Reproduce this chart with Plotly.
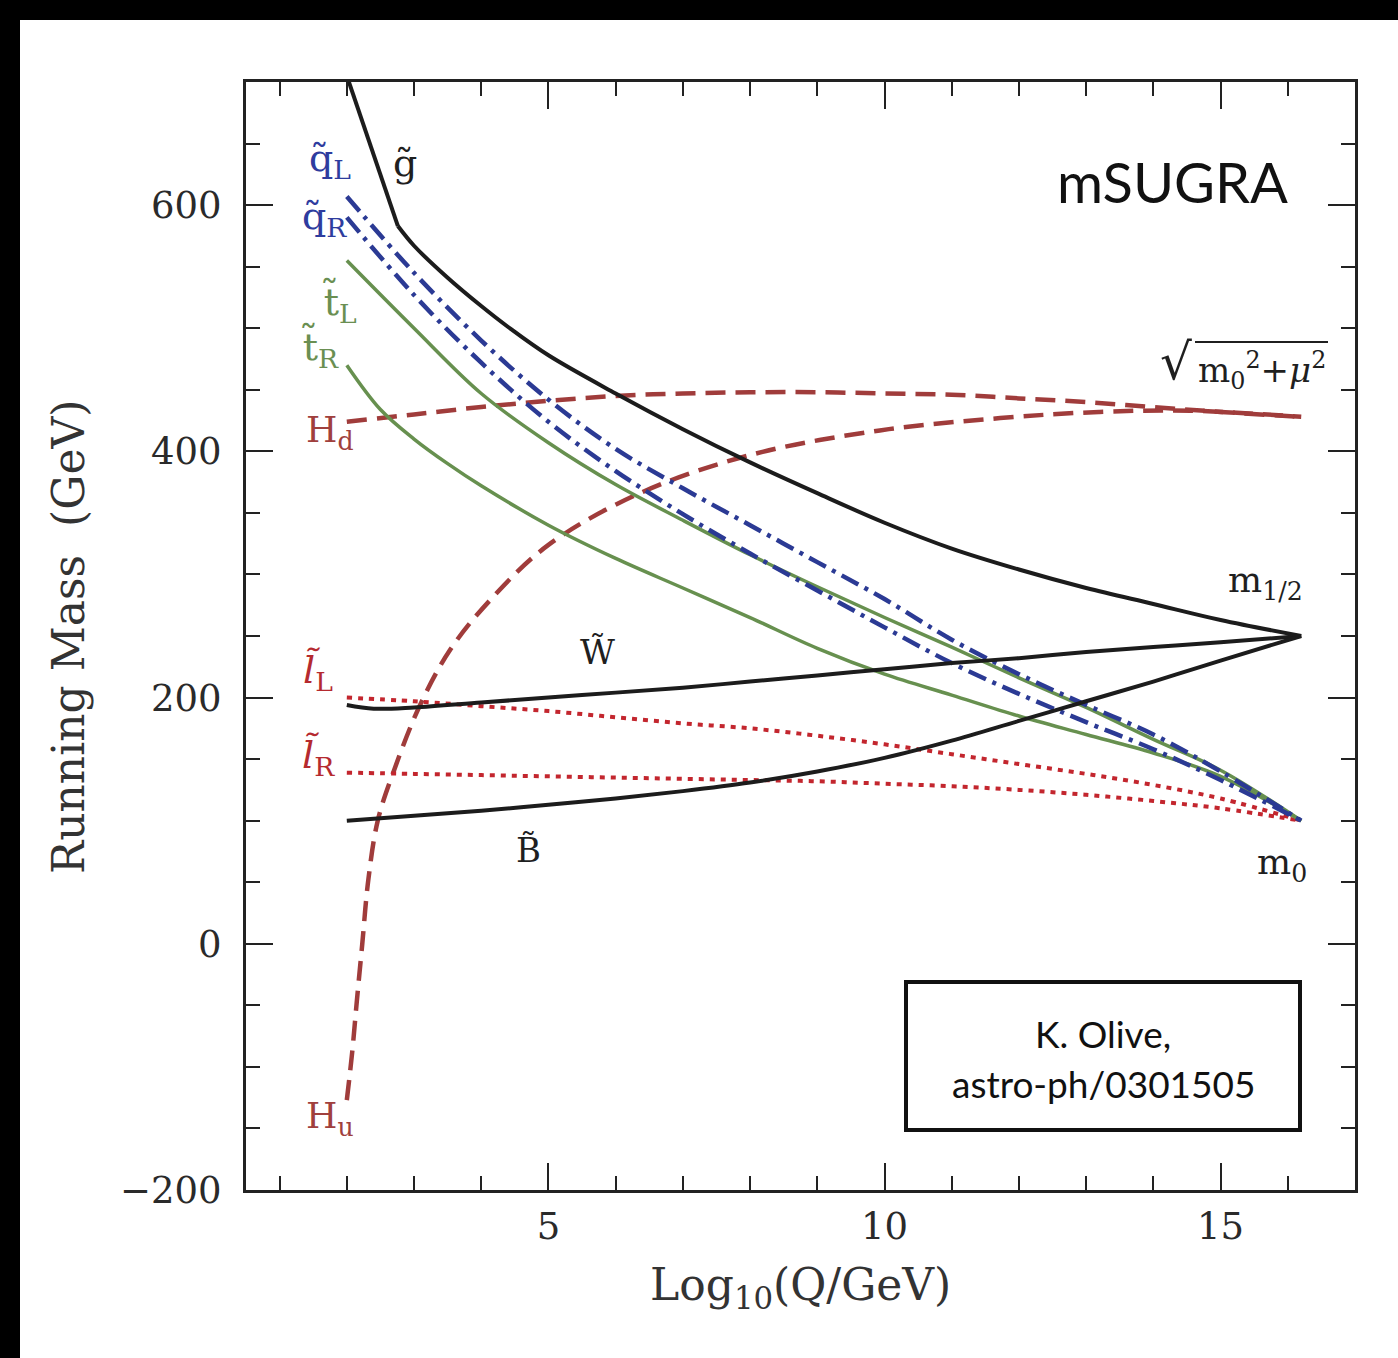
import plotly.graph_objects as go

# ---------------- data ----------------
x_main = [2, 3, 4, 5, 6, 7, 8, 9, 10, 11, 12, 13, 14, 15, 16.2]

gluino_x = [2.0, 2.76, 3.0, 3.5, 4.0, 4.4, 5, 6, 7, 8, 9, 10, 11, 12, 13, 14, 15, 16.2]
gluino_y = [705, 583, 567, 541, 518, 501, 478, 447, 418, 391, 366, 342, 321, 304, 289, 276, 263, 250]

squark_L = [607, 545, 490, 442, 402, 370, 340, 310, 280, 247, 219, 194, 170, 140, 100]
squark_R = [590, 527, 472, 424, 384, 349, 317, 287, 257, 228, 203, 180, 158, 133, 100]

stop_L = [555, 500, 447, 407, 373, 344, 316, 290, 265, 241, 216, 192, 166, 141, 100]
stop_R_x = [2, 2.5, 3, 3.5, 4, 5, 6, 7, 8, 9, 10, 11, 12, 13, 14, 15, 16.2]
stop_R = [470, 434, 410, 390, 372, 340, 313, 289, 265, 240, 219, 202, 185, 170, 155, 136, 100]

wino_x = [2, 2.4, 3, 4, 5, 6, 7, 8, 9, 10, 11, 12, 13, 14, 15, 16.2]
wino_y = [194, 191, 192, 196, 200, 204, 208, 213, 218, 223, 228, 232, 237, 241, 245, 250]
bino_y = [100, 104, 108, 113, 118, 124, 131, 140, 151, 165, 181, 197, 213, 230, 250]

slep_L = [200, 197, 193, 189, 184, 179, 175, 169, 162, 154, 146, 138, 129, 118, 100]
slep_R = [139, 138, 137, 136, 135, 134, 133, 132, 130, 128, 125, 121, 116, 110, 100]

Hd_y = [424, 430, 436, 441, 445, 447, 448, 448, 447, 446, 443, 440, 436, 432, 428]

Hu_x = [2.0, 2.08, 2.15, 2.23, 2.32, 2.46, 2.69, 3.09, 3.54, 4.13, 5.0, 6.36, 8.0, 9.93, 11.72, 13.2, 14.55, 16.2]
Hu_y = [-127, -88, -46, 0, 52, 100, 139, 194, 239, 279, 324, 366, 397, 417, 427, 432, 433, 428]

x_ticks = [5, 10, 15]
y_ticks = [-200, 0, 200, 400, 600]

# ---------------- styles ----------------
BLACK = "#1c1c1c"
BLUE = "#2b3a94"
GREEN = "#67904f"
RED = "#c3262e"
BROWN = "#a03c3b"
SERIF = "DejaVu Serif"

fig = go.Figure()

def add(x, y, color, width, dash="solid", shape="spline"):
    line = dict(color=color, width=width, dash=dash, shape=shape)
    if shape == "spline":
        line["smoothing"] = 1.0
    fig.add_trace(go.Scatter(x=x, y=y, mode="lines", line=line,
                             showlegend=False, hoverinfo="skip"))

add(Hu_x, Hu_y, BROWN, 4.5, "20px,10px")
add(x_main, Hd_y, BROWN, 4.5, "20px,10px")
add(x_main, slep_L, RED, 4, "5px,6px")
add(x_main, slep_R, RED, 4, "5px,6px")
add(stop_R_x, stop_R, GREEN, 3.5)
add(x_main, stop_L, GREEN, 3.5)
add(x_main, squark_R, BLUE, 4.5, "19px,7px,4px,7px")
add(x_main, squark_L, BLUE, 4.5, "19px,7px,4px,7px")
add(wino_x, wino_y, BLACK, 4)
add(x_main, bino_y, BLACK, 4)
add(gluino_x[:2], gluino_y[:2], BLACK, 4, shape="linear")
add(gluino_x[1:], gluino_y[1:], BLACK, 4)

# ---------------- axes ----------------
axis_common = dict(showline=True, linewidth=3, linecolor="#222", mirror="allticks",
                   ticks="inside", ticklen=27, tickwidth=2, tickcolor="#222",
                   showgrid=False, zeroline=False,
                   tickfont=dict(family=SERIF, size=37, color="#2a2a2a"))
fig.update_xaxes(range=[0.5, 17], tickvals=x_ticks, ticklabelstandoff=2,
                 minor=dict(dtick=1, tick0=0, ticks="inside", ticklen=14, tickwidth=2,
                            tickcolor="#222", showgrid=False),
                 **axis_common)
fig.update_yaxes(range=[-200, 700], tickvals=y_ticks, ticklabelstandoff=14,
                 minor=dict(dtick=50, tick0=0, ticks="inside", ticklen=14, tickwidth=2,
                            tickcolor="#222", showgrid=False),
                 **axis_common)

# ---------------- annotations (positions in page pixels -> paper) ----------------
W, H = 1109, 1108
def px(xp):
    return (xp - 246) / W
def py(yp):
    return (1190 - yp) / H

ann = []
def lab(xp, yp, text, color="#1f1f1f", size=36, family=SERIF, angle=0):
    ann.append(dict(x=px(xp), y=py(yp), xref="paper", yref="paper", text=text,
                    showarrow=False, xanchor="center", yanchor="middle", textangle=angle,
                    font=dict(family=family, size=size, color=color)))

QC, TC, LC, HC, KC = "#2e3c9e", "#6a8f52", "#b52a2f", "#a0403d", "#1f1f1f"
T = "\u0303"
lab(405, 163, "g" + T, KC, 38)
lab(330, 160, "q" + T + "<sub>L</sub>", QC, 38)
lab(324, 219, "q" + T + "<sub>R</sub>", QC, 38)
lab(340, 303, "t" + T + "<sub>L</sub>", TC, 38)
lab(320, 348, "t" + T + "<sub>R</sub>", TC, 38)
lab(330, 433, "H<sub>d</sub>", HC)
lab(318, 672, "<i>l" + T + "</i><sub>L</sub>", LC, 38)
lab(318, 757, "<i>l" + T + "</i><sub>R</sub>", LC, 38)
lab(330, 1118, "H<sub>u</sub>", HC)
lab(597, 652, "W" + T, KC, 34)
lab(528, 850, "B" + T, KC, 34)
lab(1265, 582, "m<sub>1/2</sub>", KC)
lab(1282, 864, "m<sub>0</sub>", KC)
lab(1176, 362, "\u221a", KC, 50)
lab(1262, 370, "m<sub>0</sub><sup>2</sup>+<i>\u03bc</i><sup>2</sup>", KC, 34)
lab(1172, 182, "mSUGRA", "#111", 56, "Lato")
lab(68, 637, "Running Mass  (GeV)", "#333", 44, SERIF, -90)
lab(800, 1287, "Log<sub>10</sub>(Q/GeV)", "#333", 44)
lab(1103, 1033, "K. Olive,", "#111", 37, "Lato")
lab(1103, 1083, "astro-ph/0301505", "#111", 37, "Lato")

shapes = [
    dict(type="rect", xref="paper", yref="paper", x0=px(906), x1=px(1300), y0=py(1130), y1=py(982),
         line=dict(color="#111", width=4)),
    dict(type="line", xref="paper", yref="paper", x0=px(1195), x1=px(1328), y0=py(342), y1=py(342),
         line=dict(color="#1f1f1f", width=2)),
    dict(type="rect", xref="paper", yref="paper", x0=px(0), x1=px(20), y0=py(1358), y1=py(0),
         fillcolor="black", line=dict(width=0), layer="below"),
    dict(type="rect", xref="paper", yref="paper", x0=px(0), x1=px(1398), y0=py(20), y1=py(0),
         fillcolor="black", line=dict(width=0), layer="below"),
]

fig.update_layout(width=1398, height=1358, margin=dict(l=246, r=43, t=82, b=168),
                  paper_bgcolor="white", plot_bgcolor="white", showlegend=False,
                  annotations=ann, shapes=shapes)

fig.write_html("out.html", config={"displayModeBar": False},
               post_script="document.body.style.margin='0';document.body.style.overflow='hidden';")
